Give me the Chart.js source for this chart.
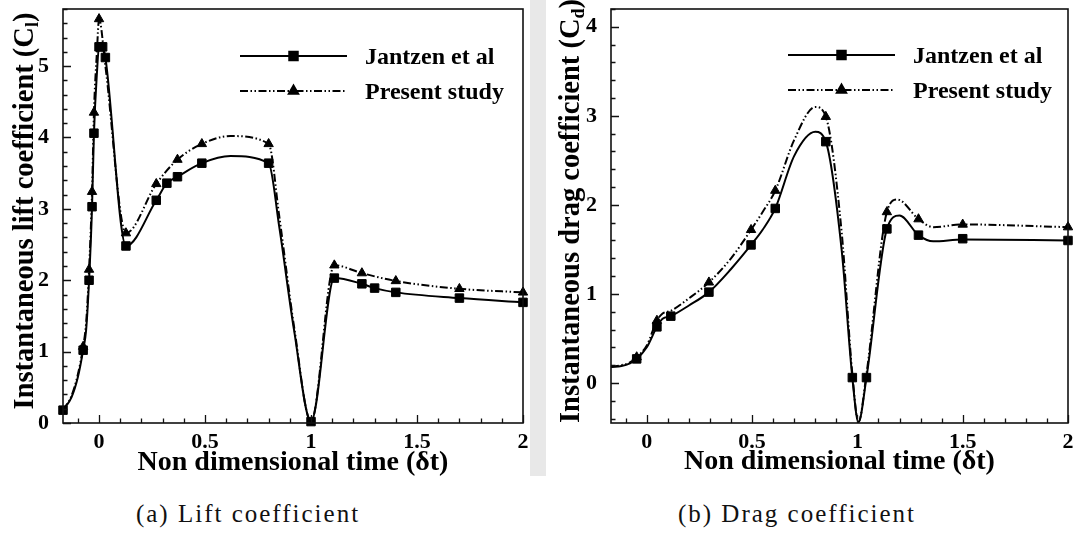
<!DOCTYPE html>
<html>
<head>
<meta charset="utf-8">
<title>Lift and drag coefficients</title>
<script src="https://cdn.jsdelivr.net/npm/chart.js@4.4.1/dist/chart.umd.min.js"></script>
<style>
  html, body { margin: 0; padding: 0; background: #ffffff; }
  body { width: 1075px; height: 533px; position: relative; overflow: hidden; font-family: "Liberation Serif", serif; }
  #gap { position: absolute; left: 530px; top: 0; width: 16px; height: 476px; background: #e8e8e8; }
  canvas { position: absolute; top: 0; }
  #lift { left: 0; }
  #drag { left: 540px; }
  .cap { position: absolute; top: 499px; height: 30px; line-height: 30px; text-align: center;
         font-family: "Liberation Serif", serif; font-size: 25px; letter-spacing: 2px; color: #111; white-space: nowrap; }
  #capA { left: 98px; width: 300px; }
  #capB { left: 647px; width: 300px; }
</style>
</head>
<body>
<div id="gap"></div>
<canvas id="lift" width="540" height="480"></canvas>
<canvas id="drag" width="535" height="480"></canvas>
<div class="cap" id="capA">(a) Lift coefficient</div>
<div class="cap" id="capB">(b) Drag coefficient</div>

<script>
// ---------- (a) lift coefficient ----------
// Jantzen et al, marked samples
const liftJantzenT  = [-0.17, -0.075, -0.047, -0.033, -0.024, 0.0, 0.017, 0.03, 0.127, 0.27, 0.32, 0.37, 0.485, 0.80, 1.0, 1.11, 1.24, 1.30, 1.40, 1.70, 2.0];
const liftJantzenCl = [0.18, 1.02, 2.0, 3.03, 4.06, 5.27, 5.27, 5.12, 2.48, 3.12, 3.36, 3.45, 3.64, 3.64, 0.02, 2.03, 1.95, 1.89, 1.83, 1.75, 1.69];
// Present study, marked samples
const liftPresentT  = [-0.075, -0.047, -0.033, -0.024, 0.0, 0.127, 0.27, 0.37, 0.485, 0.80, 1.11, 1.24, 1.40, 1.70, 2.0];
const liftPresentCl = [1.07, 2.15, 3.24, 4.35, 5.66, 2.66, 3.35, 3.69, 3.91, 3.91, 2.21, 2.10, 1.99, 1.88, 1.83];
// Continuous traces
const liftJantzenCurveT  = [-0.17, -0.13, -0.1, -0.075, -0.061, -0.047, -0.033, -0.024, -0.01, 0.0, 0.017, 0.03, 0.127, 0.27, 0.32, 0.37, 0.485, 0.62, 0.80, 0.85, 0.92, 1.0, 1.11, 1.24, 1.30, 1.40, 1.70, 2.0];
const liftJantzenCurveCl = [0.18, 0.36, 0.64, 1.02, 1.3, 2.0, 3.03, 4.06, 4.9, 5.27, 5.27, 5.12, 2.48, 3.12, 3.36, 3.45, 3.64, 3.74, 3.64, 2.75, 1.3, 0.02, 2.03, 1.95, 1.89, 1.83, 1.75, 1.69];
const liftPresentCurveT  = [-0.17, -0.13, -0.1, -0.075, -0.061, -0.047, -0.033, -0.024, -0.01, 0.0, 0.03, 0.127, 0.27, 0.37, 0.485, 0.62, 0.80, 0.85, 0.92, 1.0, 1.11, 1.24, 1.40, 1.70, 2.0];
const liftPresentCurveCl = [0.18, 0.38, 0.68, 1.07, 1.4, 2.15, 3.24, 4.35, 5.2, 5.66, 5.0, 2.66, 3.35, 3.69, 3.91, 4.02, 3.91, 2.9, 1.35, 0.02, 2.21, 2.10, 1.99, 1.88, 1.83];

// ---------- (b) drag coefficient ----------
const dragJantzenT  = [-0.048, 0.048, 0.114, 0.295, 0.495, 0.61, 0.85, 0.976, 1.043, 1.14, 1.29, 1.5, 2.0];
const dragJantzenCd = [0.27, 0.63, 0.75, 1.02, 1.55, 1.96, 2.71, 0.06, 0.06, 1.73, 1.66, 1.62, 1.60];
const dragPresentT  = [-0.048, 0.048, 0.295, 0.495, 0.61, 0.85, 1.14, 1.29, 1.5, 2.0];
const dragPresentCd = [0.29, 0.70, 1.13, 1.72, 2.16, 2.99, 1.92, 1.84, 1.78, 1.75];
const dragJantzenCurveT  = [-0.17, -0.12, -0.08, -0.048, 0.0, 0.048, 0.075, 0.114, 0.2, 0.295, 0.4, 0.495, 0.55, 0.61, 0.7, 0.8, 0.85, 0.925, 0.976, 1.005, 1.043, 1.14, 1.2, 1.29, 1.36, 1.5, 2.0];
const dragJantzenCurveCd = [0.18, 0.19, 0.22, 0.27, 0.40, 0.63, 0.72, 0.75, 0.87, 1.02, 1.28, 1.55, 1.72, 1.96, 2.55, 2.82, 2.71, 1.5, 0.06, -0.44, 0.06, 1.73, 1.88, 1.66, 1.59, 1.61, 1.60];
const dragPresentCurveT  = [-0.17, -0.12, -0.08, -0.048, 0.0, 0.048, 0.075, 0.114, 0.2, 0.295, 0.4, 0.495, 0.55, 0.61, 0.7, 0.8, 0.85, 0.925, 0.976, 1.005, 1.043, 1.14, 1.19, 1.29, 1.36, 1.5, 2.0];
const dragPresentCurveCd = [0.18, 0.2, 0.23, 0.29, 0.42, 0.70, 0.78, 0.81, 0.95, 1.13, 1.40, 1.72, 1.92, 2.16, 2.73, 3.10, 2.99, 1.7, 0.1, -0.44, 0.1, 1.92, 2.06, 1.84, 1.75, 1.78, 1.75];

// ---------- axes ----------
const timeTicks = [0, 0.5, 1, 1.5, 2];
const liftTicks = [0, 1, 2, 3, 4, 5];
const dragTicks = [0, 1, 2, 3, 4];

const SERIES_NAMES = ['Jantzen et al', 'Present study'];
const DASH_DOT_DOT = [8, 2.5, 1.5, 2.5, 1.5, 2.5];

const zip = (xs, ys) => xs.map((x, i) => ({ x: x, y: ys[i] }));

// Frame, inward tick marks, legend and axis titles
const figureDecor = {
  id: 'figureDecor',
  afterDatasetsDraw(chart, args, o) {
    const ctx = chart.ctx, a = chart.chartArea, sx = chart.scales.x, sy = chart.scales.y;
    ctx.save();
    ctx.strokeStyle = '#111';
    ctx.lineWidth = 1.3;
    ctx.beginPath();
    const isMajor = (v, step) => Math.abs(v / step - Math.round(v / step)) < 1e-6;
    for (let i = Math.ceil(sx.min / o.xMinor - 1e-6); i * o.xMinor <= sx.max + 1e-6; i++) {
      const v = i * o.xMinor, px = Math.round(sx.getPixelForValue(v)) + 0.5;
      ctx.moveTo(px, a.bottom);
      ctx.lineTo(px, a.bottom - (isMajor(v, o.xMajor) ? 8 : 4.5));
    }
    for (let i = Math.ceil(sy.min / o.yMinor - 1e-6); i * o.yMinor <= sy.max + 1e-6; i++) {
      const v = i * o.yMinor, py = Math.round(sy.getPixelForValue(v)) + 0.5;
      ctx.moveTo(a.left, py);
      ctx.lineTo(a.left + (isMajor(v, o.yMajor) ? 8 : 4.5), py);
    }
    ctx.stroke();
    ctx.lineWidth = 1.6;
    ctx.strokeRect(a.left, a.top, a.right - a.left, a.bottom - a.top);

    // legend: line sample with marker, then label
    const lg = o.legend;
    [0, 1].forEach(k => {
      const lineDs = chart.data.datasets[k];
      const markDs = chart.data.datasets[k + 2];
      const yy = lg.rows[k];
      ctx.save();
      ctx.strokeStyle = '#000';
      ctx.lineWidth = lineDs.borderWidth;
      ctx.setLineDash(lineDs.borderDash || []);
      ctx.beginPath();
      ctx.moveTo(lg.x1, yy);
      ctx.lineTo(lg.x2, yy);
      ctx.stroke();
      ctx.setLineDash([]);
      ctx.fillStyle = '#000';
      Chart.helpers.drawPoint(ctx, { pointStyle: markDs.pointStyle, radius: markDs.pointRadius, rotation: 0, borderWidth: 1 }, (lg.x1 + lg.x2) / 2, yy);
      ctx.fill();
      ctx.font = 'bold 24px "Liberation Serif"';
      ctx.textAlign = 'left';
      ctx.textBaseline = 'alphabetic';
      ctx.fillText(SERIES_NAMES[k], lg.textX, yy + 7.5);
      ctx.restore();
    });

    // x title
    ctx.fillStyle = '#000';
    ctx.font = 'bold 28px "Liberation Serif"';
    ctx.textAlign = 'center';
    ctx.textBaseline = 'alphabetic';
    ctx.fillText('Non dimensional time (\u03b4t)', (a.left + a.right) / 2, o.xTitleY);

    // y title with subscript, rotated
    const t = o.yTitle;
    ctx.translate(o.yTitleX, o.yTitleY);
    ctx.rotate(-Math.PI / 2);
    const mainFont = 'bold 28.5px "Liberation Serif"', subFont = 'bold 18px "Liberation Serif"';
    ctx.font = mainFont;
    const w1 = ctx.measureText(t[0]).width, w3 = ctx.measureText(t[2]).width;
    ctx.font = subFont;
    const w2 = ctx.measureText(t[1]).width;
    let cx = -(w1 + w2 + w3) / 2;
    ctx.textAlign = 'left';
    ctx.font = mainFont; ctx.fillText(t[0], cx, 0); cx += w1;
    ctx.font = subFont; ctx.fillText(t[1], cx, 5); cx += w2;
    ctx.font = mainFont; ctx.fillText(t[2], cx, 0);
    ctx.restore();
  }
};

function makeChart(canvasId, cfg) {
  const tickFont = { family: 'Liberation Serif', size: 22, weight: 'bold' };
  const noPad = s => { s.paddingLeft = 0; s.paddingRight = 0; s.paddingTop = 0; s.paddingBottom = 0; };
  return new Chart(document.getElementById(canvasId), {
    type: 'line',
    data: {
      datasets: [
        { label: SERIES_NAMES[0], data: cfg.jCurve, borderColor: '#000', borderWidth: 2, pointRadius: 0,
          cubicInterpolationMode: 'monotone', fill: false, order: 3, clip: false },
        { label: SERIES_NAMES[1], data: cfg.pCurve, borderColor: '#000', borderWidth: 2, borderDash: DASH_DOT_DOT,
          pointRadius: 0, cubicInterpolationMode: 'monotone', fill: false, order: 2, clip: false },
        { label: SERIES_NAMES[0], data: cfg.jMarks, showLine: false, pointStyle: 'rect', pointRadius: 6,
          backgroundColor: '#000', borderColor: '#000', borderWidth: 1, order: 0, clip: false },
        { label: SERIES_NAMES[1], data: cfg.pMarks, showLine: false, pointStyle: 'triangle', pointRadius: 5.4,
          backgroundColor: '#000', borderColor: '#000', borderWidth: 1, order: 1, clip: false }
      ]
    },
    options: {
      responsive: false,
      animation: false,
      layout: { padding: { top: 9, right: cfg.padRight, left: 0, bottom: 0 } },
      plugins: {
        legend: { display: false },
        tooltip: { enabled: false },
        figureDecor: cfg.decor
      },
      scales: {
        x: {
          type: 'linear', min: -0.17, max: 2,
          grid: { display: false }, border: { display: false },
          afterBuildTicks: s => { s.ticks = timeTicks.map(v => ({ value: v })); },
          afterFit: s => { s.height = 57; noPad(s); },
          ticks: { font: tickFont, color: '#000', padding: -2, maxRotation: 0, autoSkip: false,
                   callback: v => String(v) }
        },
        y: {
          type: 'linear', min: cfg.yMin, max: cfg.yMax,
          grid: { display: false }, border: { display: false },
          afterBuildTicks: s => { s.ticks = cfg.yTicks.map(v => ({ value: v })); },
          afterFit: s => { s.width = cfg.yAxisWidth; noPad(s); },
          ticks: { font: tickFont, color: '#000', padding: 6, autoSkip: false, callback: v => String(v) }
        }
      }
    },
    plugins: [figureDecor]
  });
}

makeChart('lift', {
  jCurve: zip(liftJantzenCurveT, liftJantzenCurveCl),
  pCurve: zip(liftPresentCurveT, liftPresentCurveCl),
  jMarks: zip(liftJantzenT, liftJantzenCl),
  pMarks: zip(liftPresentT, liftPresentCl),
  yMin: 0, yMax: 5.8, yTicks: liftTicks, yAxisWidth: 63, padRight: 17,
  decor: {
    xMinor: 0.1, xMajor: 0.5, yMinor: 0.2, yMajor: 1,
    legend: { x1: 240, x2: 347, rows: [56, 91], textX: 365 },
    xTitleY: 470,
    yTitle: ['Instantaneous lift coefficient (C', 'l', ')'], yTitleX: 33, yTitleY: 211
  }
});

makeChart('drag', {
  jCurve: zip(dragJantzenCurveT, dragJantzenCurveCd),
  pCurve: zip(dragPresentCurveT, dragPresentCurveCd),
  jMarks: zip(dragJantzenT, dragJantzenCd),
  pMarks: zip(dragPresentT, dragPresentCd),
  yMin: -0.45, yMax: 4.2, yTicks: dragTicks, yAxisWidth: 71, padRight: 4,
  decor: {
    xMinor: 0.1, xMajor: 0.5, yMinor: 0.2, yMajor: 1,
    legend: { x1: 248, x2: 355, rows: [55, 90], textX: 373 },
    xTitleY: 469,
    yTitle: ['Instantaneous drag coefficient (C', 'd', ')'], yTitleX: 39, yTitleY: 211
  }
});
</script>
</body>
</html>
